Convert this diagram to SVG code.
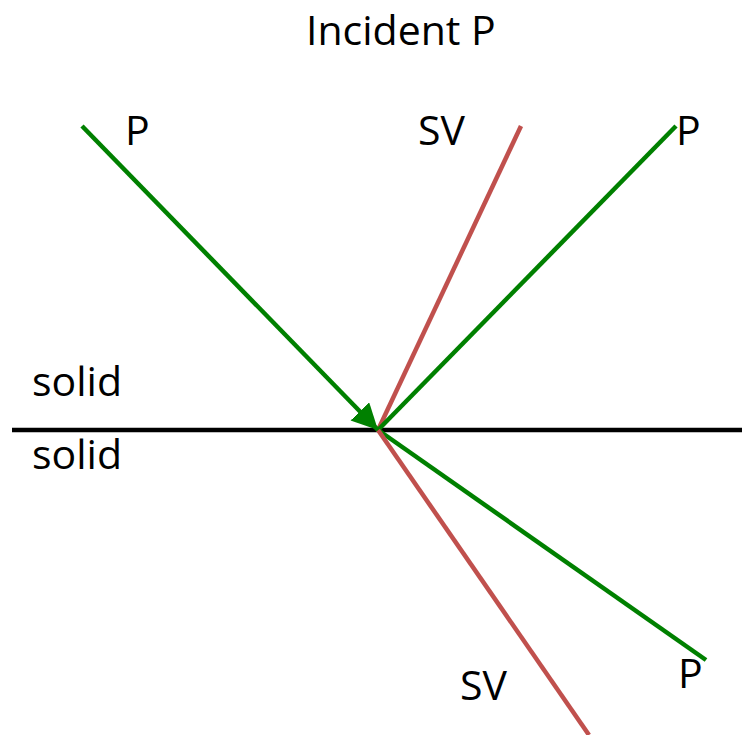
<svg xmlns="http://www.w3.org/2000/svg" width="742" height="735" viewBox="0 0 742 735">
<style>
.t{font-family:"Open Sans","Noto Sans",sans-serif;font-size:41px;fill:#000}
.g{stroke:#008000;stroke-width:4.5;fill:none}
.r{stroke:#C0504D;stroke-width:4.5;fill:none}
</style>
<defs>
<marker id="ah" markerUnits="userSpaceOnUse" markerWidth="30" markerHeight="30" refX="26" refY="13" orient="auto">
<path d="M0,0 L26,13 L0,26 Z" fill="#008000"/>
</marker>
</defs>
<rect width="742" height="735" fill="#fff"/>
<g id="interface">
<line x1="12" y1="430" x2="742" y2="430" stroke="#000" stroke-width="4.5"/>
</g>
<g id="connectors">
<line class="r" x1="378" y1="430" x2="521" y2="126"/>
<line class="g" x1="378" y1="430" x2="676" y2="126"/>
<line class="g" x1="378" y1="430" x2="706" y2="660"/>
<line class="r" x1="378" y1="430" x2="589" y2="735"/>
<line class="g" x1="82" y1="126" x2="378" y2="430" marker-end="url(#ah)"/>
</g>
<g id="labels">
<text class="t" x="306" y="45">Incident P</text>
<text class="t" x="125" y="145">P</text>
<text class="t" x="418" y="145">SV</text>
<text class="t" x="676" y="145">P</text>
<text class="t" x="32" y="396">solid</text>
<text class="t" x="32" y="469">solid</text>
<text class="t" x="460" y="700">SV</text>
<text class="t" x="678" y="688">P</text>
</g>
</svg>
